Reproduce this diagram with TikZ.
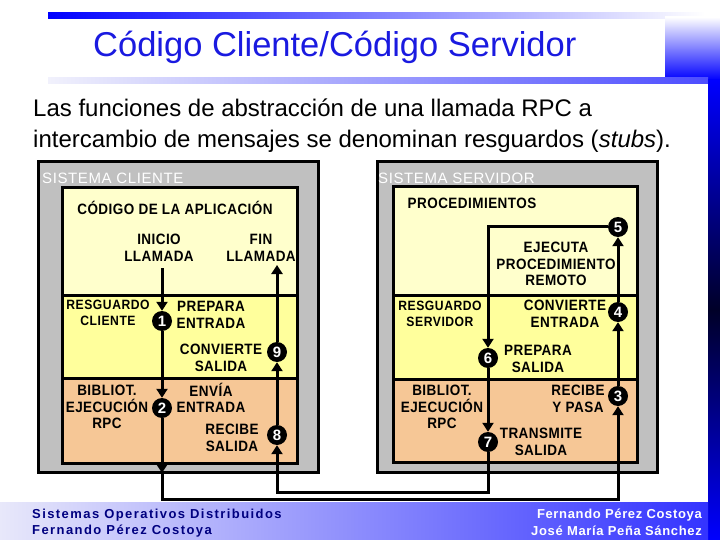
\documentclass[tikz,border=0pt]{standalone}
\usepackage{fontspec}
\setmainfont{Liberation Sans}
\newfontfamily\lblfont[LetterSpace=3,FakeStretch=0.9]{Liberation Sans}
\newfontfamily\stubfont[LetterSpace=4,FakeStretch=0.9]{Liberation Sans}
\newfontfamily\sysfont[LetterSpace=4]{Liberation Sans}
\newfontfamily\footfont[LetterSpace=11]{Liberation Sans}
\newfontfamily\footfontr[LetterSpace=5]{Liberation Sans}
\usetikzlibrary{arrows.meta}
\definecolor{titleblue}{RGB}{26,26,224}
\definecolor{appyel}{RGB}{255,255,204}
\definecolor{stubyel}{RGB}{255,255,156}
\definecolor{libor}{RGB}{246,199,150}
\definecolor{sysgray}{RGB}{192,192,192}
\definecolor{navyt}{RGB}{0,0,128}
\definecolor{barblue}{RGB}{0,0,255}
\definecolor{darknavy}{RGB}{0,0,40}
\definecolor{paleblue}{RGB}{232,232,250}
\tikzset{
  lbl/.style={font=\lblfont\bfseries\fontsize{15}{16.5}\selectfont, align=center, inner sep=0pt},
  stublbl/.style={font=\stubfont\bfseries\fontsize{13.5}{15.5}\selectfont, align=center, inner sep=0pt},
  systitle/.style={font=\sysfont\fontsize{15}{16}\selectfont, text=white, anchor=base west, inner sep=0pt},
  num/.style={circle, fill=black, inner sep=0pt, minimum size=20pt, text=white, font=\bfseries\fontsize{15}{15}\selectfont},
  conn/.style={line width=3pt, -{Triangle[width=11pt,length=9pt]}},
  boxline/.style={line width=3pt},
  foot/.style={font=\footfont\bfseries\fontsize{13}{15}\selectfont, inner sep=0pt},
  footr/.style={font=\footfontr\bfseries\fontsize{13}{15}\selectfont, inner sep=0pt}
}
\begin{document}
\begin{tikzpicture}[x=1pt,y=-1pt]
\useasboundingbox (0,0) rectangle (720,540);
% slide decorations
\shade[left color=barblue, right color=white] (48,13) rectangle (705,19);
\shade[top color=white, bottom color=barblue] (665,17) rectangle (720,80);
\shade[left color=paleblue!60!white, right color=barblue!70] (48,78) rectangle (708,84);
\shade[top color=barblue, bottom color=barblue, middle color=darknavy] (708,80) rectangle (720,540);
\shade[left color=paleblue, right color=barblue!80] (0,502) rectangle (708,540);
% title and text
\node[anchor=base west, text=titleblue, font=\fontsize{34.5}{34.5}\selectfont, inner sep=0pt] (title) at (93,57) {Código Cliente/Código Servidor};
\node[anchor=base west, font=\fontsize{24}{24}\selectfont, inner sep=0pt] (l1) at (33,117) {Las funciones de abstracción de una llamada RPC a};
\node[anchor=base west, font=\fontsize{24}{24}\selectfont, inner sep=0pt] (l2) at (33,148) {intercambio de mensajes se denominan resguardos (\textit{stubs}).};
% client system
\draw[boxline, fill=sysgray] (38,162) rectangle (318,472);
\fill[appyel] (62,188) rectangle (297,295);
\fill[stubyel] (62,295) rectangle (297,378);
\fill[libor] (62,378) rectangle (297,463);
\draw[boxline] (62,188) rectangle (297,463);
\draw[boxline] (62,295) -- (297,295);
\draw[boxline] (62,378) -- (297,378);
\node[systitle] (sc) at (42,184) {SISTEMA CLIENTE};
% server system
\draw[boxline, fill=sysgray] (377,162) rectangle (657,472);
\fill[appyel] (393,187) rectangle (637,295);
\fill[stubyel] (393,295) rectangle (637,379);
\fill[libor] (393,379) rectangle (637,462);
\draw[boxline] (393,187) rectangle (637,462);
\draw[boxline] (393,295) -- (637,295);
\draw[boxline] (393,379) -- (637,379);
\node[systitle] (ss) at (378,184) {SISTEMA SERVIDOR};
% client labels
\node[lbl] (capp) at (175,208) {CÓDIGO DE LA APLICACIÓN};
\node[lbl] (tini) at (159,248) {INICIO\\LLAMADA};
\node[lbl] (tfin) at (261,248) {FIN\\LLAMADA};
\node[stublbl] (rcli) at (108,313) {RESGUARDO\\CLIENTE};
\node[lbl] (prep) at (211,315) {PREPARA\\ENTRADA};
\node[lbl] (convs) at (221,358) {CONVIERTE\\SALIDA};
\node[lbl] (bibc) at (107,407) {BIBLIOT.\\EJECUCIÓN\\RPC};
\node[lbl] (envia) at (211,398) {ENVÍA\\ENTRADA};
\node[lbl] (recs) at (232,438) {RECIBE\\SALIDA};
% server labels
\node[lbl] (proc) at (472,203) {PROCEDIMIENTOS};
\node[lbl] (ejec) at (556,264) {EJECUTA\\PROCEDIMIENTO\\REMOTO};
\node[stublbl] (rser) at (440,314) {RESGUARDO\\SERVIDOR};
\node[lbl] (conve) at (565,314) {CONVIERTE\\ENTRADA};
\node[lbl] (preps) at (538,359) {PREPARA\\SALIDA};
\node[lbl] (bibs) at (442,407) {BIBLIOT.\\EJECUCIÓN\\RPC};
\node[lbl] (recp) at (578,399) {RECIBE\\Y PASA};
\node[lbl] (trans) at (541,442) {TRANSMITE\\SALIDA};
% step markers
\node[num] (c1) at (162,321) {1};
\node[num] (c2) at (162,408) {2};
\node[num] (c3) at (618,396) {3};
\node[num] (c4) at (618,312) {4};
\node[num] (c5) at (618,227) {5};
\node[num] (c6) at (488,358) {6};
\node[num] (c7) at (488,442) {7};
\node[num] (c8) at (277,435) {8};
\node[num] (c9) at (277,352) {9};
% connector points
\coordinate (ini) at (162,268);
\coordinate (exitC) at (162,473);
\coordinate (b3) at (162,499);
\coordinate (pc) at (488,227);
\coordinate (b1) at (488,492);
\coordinate (b2) at (277,492);
\coordinate (fin) at (277,265);
% connectors
\draw[conn] (ini) -- (c1);
\draw[conn] (c1) -- (c2);
\draw[conn] (c2) -- (exitC);
\draw[conn] (exitC) -- (b3) -| (c3);
\draw[conn] (c3) -- (c4);
\draw[conn] (c4) -- (c5);
\draw[conn] (c5) -- (pc) -- (c6);
\draw[conn] (c6) -- (c7);
\draw[conn] (c7) -- (b1) -- (b2) -- (c8);
\draw[conn] (c8) -- (c9);
\draw[conn] (c9) -- (fin);
% footer
\node[foot, anchor=base west, text=navyt] (f1) at (32,518) {Sistemas Operativos Distribuidos};
\node[foot, anchor=base west, text=navyt] (f2) at (32,534) {Fernando Pérez Costoya};
\node[footr, anchor=base east, text=white] (f3) at (702,518) {Fernando Pérez Costoya};
\node[footr, anchor=base east, text=white] (f4) at (702,535) {José María Peña Sánchez};
\end{tikzpicture}
\end{document}
